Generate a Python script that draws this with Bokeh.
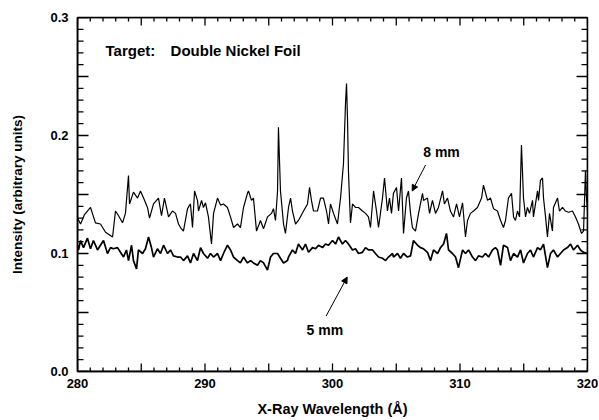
from bokeh.plotting import figure
from bokeh.models import (FixedTicker, CustomJSTickFormatter, Arrow,
                          NormalHead, Label, ColumnDataSource)
from bokeh.embed import file_html
from bokeh.resources import INLINE

# ---- data ----
wl_8mm = [
    280.00, 280.24, 280.55, 281.02, 281.41, 281.80, 282.20, 282.75, 282.98, 283.22,
    283.53, 283.76, 284.00, 284.08, 284.39, 284.71, 284.94, 285.18, 285.49, 285.65,
    285.96, 286.35, 286.59, 286.82, 287.14, 287.45, 287.69, 287.92, 288.08, 288.31,
    288.63, 288.86, 289.02, 289.18, 289.41, 289.49, 289.73, 289.88, 290.04, 290.27,
    290.51, 290.67, 290.98, 291.22, 291.45, 291.76, 292.00, 292.24, 292.55, 292.78,
    293.02, 293.33, 293.41, 293.65, 293.80, 294.04, 294.35, 294.59, 294.90, 295.22,
    295.37, 295.53, 295.69, 295.76, 295.92, 296.16, 296.31, 296.55, 296.71, 296.86,
    297.10, 297.33, 297.73, 298.04, 298.20, 298.35, 298.51, 298.82, 299.06, 299.29,
    299.53, 299.69, 299.84, 300.08, 300.39, 300.63, 300.86, 301.02, 301.10, 301.18,
    301.25, 301.41, 301.57, 301.80, 302.04, 302.35, 302.59, 302.82, 302.98, 303.22,
    303.45, 303.61, 303.76, 303.92, 304.08, 304.31, 304.47, 304.63, 304.78, 305.02,
    305.18, 305.41, 305.57, 305.80, 305.96, 306.12, 306.27, 306.51, 306.75, 307.06,
    307.14, 307.45, 307.61, 307.84, 308.08, 308.31, 308.63, 308.78, 309.02, 309.25,
    309.49, 309.73, 309.96, 310.20, 310.43, 310.59, 310.82, 311.06, 311.37, 311.69,
    311.84, 312.16, 312.39, 312.63, 312.94, 313.18, 313.41, 313.57, 313.80, 314.04,
    314.20, 314.35, 314.51, 314.67, 314.82, 314.98, 315.14, 315.29, 315.45, 315.69,
    315.76, 316.08, 316.16, 316.31, 316.47, 316.55, 316.71, 316.86, 317.02, 317.25,
    317.33, 317.65, 317.80, 318.04, 318.27, 318.51, 318.82, 319.06, 319.29, 319.53,
    319.69, 319.84, 319.92, 320.00,
]
int_8mm = [
    0.130, 0.125, 0.133, 0.139, 0.126, 0.125, 0.118, 0.114, 0.136, 0.132,
    0.126, 0.134, 0.166, 0.142, 0.152, 0.147, 0.153, 0.147, 0.139, 0.130,
    0.142, 0.147, 0.132, 0.147, 0.131, 0.136, 0.134, 0.125, 0.122, 0.119,
    0.138, 0.142, 0.122, 0.153, 0.145, 0.136, 0.145, 0.139, 0.143, 0.131,
    0.108, 0.134, 0.147, 0.141, 0.142, 0.139, 0.131, 0.122, 0.125, 0.122,
    0.139, 0.151, 0.153, 0.145, 0.147, 0.119, 0.128, 0.121, 0.131, 0.134,
    0.138, 0.128, 0.153, 0.207, 0.153, 0.125, 0.117, 0.139, 0.147, 0.136,
    0.125, 0.128, 0.136, 0.142, 0.156, 0.145, 0.136, 0.136, 0.147, 0.147,
    0.136, 0.125, 0.142, 0.134, 0.125, 0.147, 0.176, 0.227, 0.244, 0.213,
    0.170, 0.126, 0.142, 0.139, 0.139, 0.136, 0.134, 0.131, 0.122, 0.153,
    0.136, 0.122, 0.134, 0.147, 0.164, 0.136, 0.147, 0.134, 0.151, 0.156,
    0.136, 0.164, 0.117, 0.147, 0.153, 0.134, 0.122, 0.119, 0.134, 0.151,
    0.145, 0.147, 0.134, 0.145, 0.134, 0.139, 0.153, 0.142, 0.147, 0.136,
    0.131, 0.142, 0.131, 0.143, 0.114, 0.128, 0.134, 0.136, 0.139, 0.147,
    0.158, 0.145, 0.147, 0.138, 0.136, 0.128, 0.122, 0.128, 0.147, 0.151,
    0.131, 0.128, 0.136, 0.131, 0.192, 0.147, 0.131, 0.139, 0.134, 0.145,
    0.131, 0.153, 0.145, 0.162, 0.164, 0.147, 0.131, 0.114, 0.134, 0.119,
    0.139, 0.147, 0.136, 0.139, 0.136, 0.135, 0.136, 0.131, 0.125, 0.117,
    0.119, 0.170, 0.147, 0.136,
]

wl_5mm = [
    280.00, 280.08, 280.24, 280.47, 280.78, 281.02, 281.25, 281.57, 281.80, 282.04,
    282.35, 282.59, 282.82, 283.14, 283.37, 283.61, 283.84, 284.00, 284.24, 284.39,
    284.63, 284.78, 285.10, 285.33, 285.57, 285.80, 285.96, 286.27, 286.51, 286.75,
    287.06, 287.29, 287.53, 287.84, 288.08, 288.31, 288.63, 288.86, 289.10, 289.41,
    289.65, 289.88, 290.20, 290.43, 290.67, 290.98, 291.22, 291.45, 291.76, 292.00,
    292.24, 292.55, 292.78, 293.02, 293.33, 293.57, 293.80, 294.12, 294.35, 294.59,
    294.90, 295.14, 295.37, 295.69, 295.92, 296.16, 296.47, 296.55, 296.86, 297.10,
    297.33, 297.65, 297.88, 298.12, 298.43, 298.67, 298.90, 299.22, 299.45, 299.69,
    300.00, 300.24, 300.47, 300.78, 301.02, 301.25, 301.57, 301.80, 302.04, 302.35,
    302.59, 302.82, 303.14, 303.37, 303.61, 303.92, 304.16, 304.39, 304.71, 304.78,
    305.10, 305.33, 305.57, 305.88, 306.12, 306.35, 306.67, 306.90, 307.14, 307.45,
    307.69, 307.92, 308.24, 308.47, 308.71, 308.94, 309.10, 309.41, 309.65, 309.88,
    310.20, 310.43, 310.67, 310.98, 311.22, 311.45, 311.76, 312.00, 312.24, 312.55,
    312.78, 312.94, 313.18, 313.41, 313.73, 313.96, 314.20, 314.51, 314.75, 314.98,
    315.29, 315.53, 315.76, 316.08, 316.31, 316.55, 316.86, 317.10, 317.33, 317.65,
    317.88, 318.12, 318.43, 318.67, 318.90, 319.22, 319.45, 319.69, 320.00,
]
int_5mm = [
    0.107, 0.103, 0.111, 0.105, 0.113, 0.104, 0.111, 0.103, 0.107, 0.111,
    0.100, 0.105, 0.104, 0.105, 0.101, 0.097, 0.103, 0.094, 0.107, 0.094,
    0.087, 0.103, 0.100, 0.104, 0.114, 0.105, 0.097, 0.104, 0.100, 0.107,
    0.100, 0.103, 0.098, 0.097, 0.097, 0.094, 0.098, 0.092, 0.100, 0.094,
    0.105, 0.100, 0.096, 0.100, 0.097, 0.100, 0.094, 0.100, 0.107, 0.103,
    0.097, 0.094, 0.092, 0.097, 0.092, 0.094, 0.092, 0.090, 0.094, 0.092,
    0.086, 0.097, 0.100, 0.100, 0.096, 0.092, 0.094, 0.097, 0.103, 0.100,
    0.108, 0.103, 0.108, 0.101, 0.105, 0.104, 0.107, 0.105, 0.108, 0.107,
    0.111, 0.108, 0.114, 0.108, 0.111, 0.108, 0.103, 0.104, 0.100, 0.101,
    0.105, 0.103, 0.103, 0.100, 0.097, 0.096, 0.094, 0.097, 0.100, 0.097,
    0.100, 0.096, 0.100, 0.097, 0.098, 0.111, 0.107, 0.105, 0.104, 0.101,
    0.094, 0.103, 0.100, 0.105, 0.108, 0.117, 0.103, 0.100, 0.097, 0.088,
    0.103, 0.100, 0.103, 0.097, 0.094, 0.098, 0.097, 0.100, 0.097, 0.103,
    0.105, 0.103, 0.090, 0.107, 0.105, 0.094, 0.100, 0.097, 0.103, 0.092,
    0.100, 0.103, 0.097, 0.105, 0.103, 0.108, 0.088, 0.100, 0.103, 0.097,
    0.100, 0.103, 0.105, 0.108, 0.103, 0.107, 0.103, 0.101, 0.100,
]

x_major = [280, 285, 290, 295, 300, 305, 310, 315, 320]
x_all = list(range(280, 321))
y_major = [0.0, 0.05, 0.1, 0.15, 0.2, 0.25, 0.3]
y_all = [round(0.01 * i, 2) for i in range(0, 31)]

X0, X1, Y0, Y1 = 280.0, 320.0, 0.0, 0.3
FONT = "Liberation Sans"

p = figure(width=599, height=420, x_range=(X0, X1), y_range=(Y0, Y1),
           output_backend="svg", toolbar_location=None,
           x_axis_label="X-Ray Wavelength (Å)",
           y_axis_label="Intensity (arbitrary units)",
           min_border_left=77, min_border_right=12,
           min_border_top=17, min_border_bottom=49)
p.background_fill_color = "white"
p.border_fill_color = "white"
p.grid.visible = False
p.outline_line_color = "black"
p.outline_line_width = 1.5

src8 = ColumnDataSource(dict(x=wl_8mm, y=int_8mm))
src5 = ColumnDataSource(dict(x=wl_5mm, y=int_5mm))
p.line("x", "y", source=src8, line_color="black", line_width=1.2)
p.line("x", "y", source=src5, line_color="black", line_width=1.7)

# ---- inward tick marks: one continuous comb-shaped path per frame side ----
PX_X = (X1 - X0) / 510.0      # Å per pixel
PX_Y = (Y1 - Y0) / 354.0      # intensity per pixel

def comb_x(base, sgn):
    xs, ys = [], []
    for v in x_all:
        d = (8 if v % 5 == 0 else 4) * PX_Y
        xs += [float(v), float(v), float(v)]
        ys += [base, base + sgn * d, base]
    p.line(xs, ys, line_color="black", line_width=1.3)

def comb_y(base, sgn):
    xs, ys = [], []
    for v in y_all:
        d = (11 if round(v * 100) % 5 == 0 else 6) * PX_X
        xs += [base, base + sgn * d, base]
        ys += [v, v, v]
    p.line(xs, ys, line_color="black", line_width=1.3)

comb_x(Y0, 1)
comb_x(Y1, -1)
comb_y(X0, 1)
comb_y(X1, -1)

xfmt = CustomJSTickFormatter(code="return (Math.abs(tick % 10) < 1e-6) ? tick.toFixed(0) : '';")
yfmt = CustomJSTickFormatter(code="return (Math.abs(tick*10 - Math.round(tick*10)) < 1e-6) ? tick.toFixed(1) : '';")

def style(ax, label_size):
    ax.axis_line_color = "black"
    ax.axis_line_width = 1.5
    ax.major_tick_in = 0
    ax.major_tick_out = 0
    ax.minor_tick_in = 0
    ax.minor_tick_out = 0
    ax.major_label_text_font = FONT
    ax.major_label_text_font_style = "bold"
    ax.major_label_text_font_size = "13px"
    ax.major_label_text_color = "black"
    ax.axis_label_text_font = FONT
    ax.axis_label_text_font_style = "bold"
    ax.axis_label_text_font_size = label_size
    ax.axis_label_text_color = "black"

xb = p.xaxis[0]
xb.ticker = FixedTicker(ticks=x_major, minor_ticks=[])
xb.formatter = xfmt
style(xb, "14.5px")
xb.major_label_standoff = 7
xb.axis_label_standoff = 10

yl = p.yaxis[0]
yl.ticker = FixedTicker(ticks=y_major, minor_ticks=[])
yl.formatter = yfmt
style(yl, "13.5px")
yl.major_label_standoff = 9
yl.axis_label_standoff = 22

def lab(x, y, t, align="left", size="15px"):
    p.add_layout(Label(x=x, y=y, text=t, text_font=FONT, text_font_style="bold",
                       text_font_size=size, text_color="black",
                       text_align=align, text_baseline="middle"))

lab(282.2, 0.272, "Target:")
lab(287.3, 0.272, "Double Nickel Foil")
lab(308.55, 0.186, "8 mm", "center", "14px")
lab(299.4, 0.035, "5 mm", "center", "14px")

p.add_layout(Arrow(end=NormalHead(size=6, fill_color="black", line_color="black"),
                   x_start=307.3, y_start=0.175, x_end=306.25, y_end=0.153,
                   line_color="black", line_width=1))
p.add_layout(Arrow(end=NormalHead(size=6, fill_color="black", line_color="black"),
                   x_start=299.5, y_start=0.047, x_end=301.15, y_end=0.080,
                   line_color="black", line_width=1))

open("out.html", "w").write(file_html(p, INLINE))
